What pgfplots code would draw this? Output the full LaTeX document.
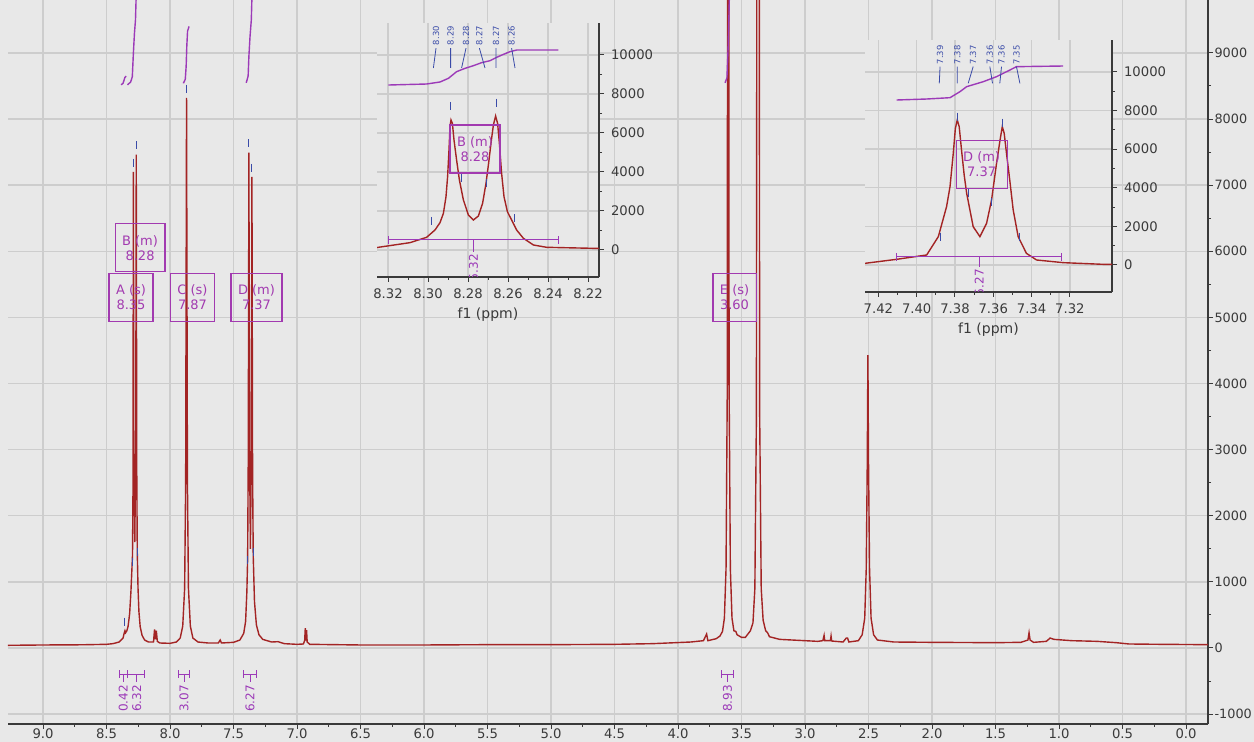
\documentclass[border=0pt]{standalone}
\usepackage{fontspec}
\setmainfont{DejaVu Sans}
\usepackage{pgfplots}
\pgfplotsset{compat=1.18}

\definecolor{bgc}{HTML}{E8E8E8}
\definecolor{gridc}{HTML}{CDCDCD}
\definecolor{specc}{HTML}{A32424}
\definecolor{intc}{HTML}{9C3AB8}
\definecolor{boxc}{HTML}{A23AB0}
\definecolor{peakc}{HTML}{3A4BA8}
\definecolor{axc}{HTML}{3A3A3A}

\pgfplotsset{
  nmr/.style={
    x dir=reverse, scale only axis,
    axis x line*=bottom, axis y line*=right,
    axis line style={draw=axc, line width=0.6pt},
    tick style={draw=axc, line width=0.5pt},
    tick align=outside, major tick length=2.5pt, minor tick length=1.5pt,
    xmajorgrids, ymajorgrids, major grid style={draw=gridc, line width=0.7pt},
    tick label style={font=\fontsize{6.6}{7}\selectfont, text=axc},
    scaled y ticks=false,
    /pgf/number format/assume math mode=true,
    /pgf/number format/set thousands separator={},
  },
}
\tikzset{
  lbox/.style={draw=boxc, line width=0.6pt, text=boxc, align=center,
    font=\fontsize{6.5}{7.6}\selectfont, inner xsep=3.5pt, minimum height=24pt},
  ilab/.style={rotate=90, anchor=east, text=intc, font=\fontsize{6}{6}\selectfont, inner sep=0.5pt},
  plab/.style={rotate=90, anchor=west, text=peakc, font=\fontsize{4.2}{5}\selectfont, inner sep=0.3pt},
}

\begin{document}
\begin{tikzpicture}
\fill[bgc] (0,0) rectangle (627pt,-371pt);
\path[use as bounding box] (0,0) rectangle (627pt,-371pt);

% full spectrum
\begin{axis}[nmr, at={(4pt,0pt)}, anchor=north west,
  width=600pt, height=362pt,
  xmin=-0.173, xmax=9.276, ymin=-1150, ymax=9800,
  xtick={0,0.5,...,9}, minor x tick num=1,
  ytick={-1000,0,...,9000}, minor y tick num=1,
  xticklabel style={inner sep=0pt, yshift=0.3pt, /pgf/number format/.cd, fixed, fixed zerofill, precision=1},
  yticklabel style={inner sep=0.6pt, font=\fontsize{6.4}{7}\selectfont},
]
\addplot[specc, line width=0.7pt] coordinates {
 (9.276,40) (9.0,45) (8.7,48) (8.5,55) (8.45,65) (8.40,90) (8.37,150) (8.36,230)
 (8.355,260) (8.35,230) (8.34,260) (8.33,330) (8.318,520) (8.308,850) (8.300,1200)
 (8.2955,1400) (8.292,2300) (8.2885,7200) (8.285,2900) (8.2775,1600) (8.270,3000)
 (8.266,7460) (8.262,2700) (8.258,1450) (8.252,900) (8.245,550) (8.235,320)
 (8.22,190) (8.20,120) (8.17,90) (8.13,90) (8.122,280) (8.115,130) (8.108,260)
 (8.10,100) (8.08,75) (8.0,70) (7.95,90) (7.92,150) (7.90,330) (7.885,900)
 (7.877,2500) (7.87,8320) (7.863,2500) (7.855,900) (7.84,330) (7.82,150) (7.78,90)
 (7.70,75) (7.62,75) (7.605,120) (7.595,75) (7.50,85) (7.45,120) (7.42,220)
 (7.405,400) (7.395,850) (7.389,1350) (7.384,2900) (7.379,7490) (7.374,3000)
 (7.367,1500) (7.360,3000) (7.355,7125) (7.350,2700) (7.345,1400) (7.335,700)
 (7.32,350) (7.30,200) (7.27,130) (7.20,90) (7.15,95) (7.10,65) (7.0,55) (6.95,60)
 (6.94,110) (6.935,300) (6.93,110) (6.925,270) (6.92,90) (6.90,55) (6.5,45) (6.0,45)
 (5.5,50) (5.0,50) (4.5,55) (4.2,65) (3.9,90) (3.80,110) (3.775,210) (3.765,110)
 (3.70,140) (3.67,180) (3.65,250) (3.635,450) (3.622,1200) (3.612,4000) (3.605,30000)
 (3.598,4000) (3.588,1200) (3.575,450) (3.56,260) (3.545,250) (3.535,200) (3.50,160)
 (3.47,160) (3.43,260) (3.41,380) (3.395,900) (3.383,3500) (3.37,30000) (3.357,3500)
 (3.345,900) (3.33,420) (3.31,260) (3.295,230) (3.28,170) (3.2,130) (3.0,110)
 (2.9,100) (2.86,110) (2.85,190) (2.845,110) (2.80,110) (2.795,180) (2.79,105)
 (2.70,90) (2.675,150) (2.665,150) (2.655,90) (2.58,110) (2.55,200) (2.53,450)
 (2.518,1200) (2.51,2800) (2.505,4430) (2.50,2800) (2.492,1200) (2.48,450) (2.46,200)
 (2.43,120) (2.3,90) (2.0,85) (1.5,80) (1.3,85) (1.245,120) (1.236,230) (1.228,120)
 (1.2,85) (1.10,100) (1.07,150) (1.04,130) (0.9,110) (0.7,100) (0.55,80) (0.45,60)
 (0.2,55) (-0.173,50)};
% peak picks
\addplot[only marks, mark=|, mark size=2pt, peakc, mark options={line width=0.5pt}] coordinates {
 (8.266,7600) (8.2885,7340) (7.87,8460) (7.379,7630) (7.355,7260)
 (8.2955,1300) (8.258,1450) (7.389,1330) (7.345,1450) (8.355,400)};
% integral curves
\addplot[intc, line width=0.7pt] coordinates {(8.385,8517) (8.37,8540) (8.355,8630) (8.345,8650)};
\addplot[intc, line width=0.7pt] coordinates {(8.335,8517) (8.31,8560) (8.297,8640) (8.2885,9000) (8.28,9300) (8.272,9500) (8.266,9900) (8.255,10300)};
\addplot[intc, line width=0.7pt] coordinates {(7.895,8540) (7.88,8600) (7.873,8800) (7.868,9100) (7.862,9330) (7.85,9400)};
\addplot[intc, line width=0.7pt] coordinates {(7.40,8547) (7.385,8650) (7.379,8950) (7.37,9250) (7.36,9500) (7.355,9850) (7.34,10300)};
\addplot[intc, line width=0.7pt] coordinates {(3.63,8547) (3.615,8620) (3.605,9100) (3.595,9900) (3.58,11000)};
% integration brackets
\draw[intc, line width=0.5pt] (axis cs:8.40,-400) -- (axis cs:8.335,-400) (axis cs:8.40,-340) -- (axis cs:8.40,-460) (axis cs:8.335,-340) -- (axis cs:8.335,-460) (axis cs:8.368,-400) -- (axis cs:8.368,-520);
\node[ilab] at (axis cs:8.368,-540) {0.42};
\draw[intc, line width=0.5pt] (axis cs:8.335,-400) -- (axis cs:8.20,-400) (axis cs:8.20,-340) -- (axis cs:8.20,-460) (axis cs:8.262,-400) -- (axis cs:8.262,-520);
\node[ilab] at (axis cs:8.262,-540) {6.32};
\draw[intc, line width=0.5pt] (axis cs:7.93,-400) -- (axis cs:7.85,-400) (axis cs:7.93,-340) -- (axis cs:7.93,-460) (axis cs:7.85,-340) -- (axis cs:7.85,-460) (axis cs:7.89,-400) -- (axis cs:7.89,-520);
\node[ilab] at (axis cs:7.89,-540) {3.07};
\draw[intc, line width=0.5pt] (axis cs:7.42,-400) -- (axis cs:7.32,-400) (axis cs:7.42,-340) -- (axis cs:7.42,-460) (axis cs:7.32,-340) -- (axis cs:7.32,-460) (axis cs:7.37,-400) -- (axis cs:7.37,-520);
\node[ilab] at (axis cs:7.37,-540) {6.27};
\draw[intc, line width=0.5pt] (axis cs:3.66,-400) -- (axis cs:3.56,-400) (axis cs:3.66,-340) -- (axis cs:3.66,-460) (axis cs:3.56,-340) -- (axis cs:3.56,-460) (axis cs:3.61,-400) -- (axis cs:3.61,-520);
\node[ilab] at (axis cs:3.61,-540) {8.93};
% multiplet boxes
\node[lbox] at (axis cs:8.236,6051) {B (m)\\8.28};
\node[lbox] at (axis cs:8.307,5303) {A (s)\\8.35};
\node[lbox] at (axis cs:7.823,5303) {C (s)\\7.87};
\node[lbox] at (axis cs:7.319,5303) {D (m)\\7.37};
\node[lbox] at (axis cs:3.555,5303) {E (s)\\3.60};
\end{axis}

% inset B
\begin{axis}[nmr, at={(188.5pt,-11.5pt)}, anchor=north west,
  width=111pt, height=127pt,
  xmin=8.2145, xmax=8.3255, ymin=-1385, ymax=11640,
  xtick={8.22,8.24,8.26,8.28,8.30,8.32}, minor x tick num=1,
  ytick={0,2000,...,10000}, minor y tick num=1,
  xticklabel style={/pgf/number format/.cd, fixed, fixed zerofill, precision=2},
  xlabel={f1 (ppm)}, xlabel style={font=\fontsize{7}{8}\selectfont, text=axc, inner sep=1pt},
  axis background/.style={fill=bgc},
]
\addplot[specc, line width=0.7pt] coordinates {
 (8.3255,120) (8.3248,137) (8.309,376) (8.3007,649) (8.2965,1025) (8.294,1401)
 (8.2923,1880) (8.291,2734) (8.2902,3760) (8.2895,5127) (8.289,6323) (8.2885,6665)
 (8.2878,6494) (8.287,5640) (8.2857,4614) (8.2843,3589) (8.2823,2564) (8.2798,1794)
 (8.2773,1538) (8.2748,1743) (8.2727,2393) (8.271,3418) (8.2697,4443) (8.2683,5640)
 (8.2673,6409) (8.2662,6870) (8.2652,6494) (8.2643,5469) (8.2632,3931) (8.262,2734)
 (8.2603,1965) (8.2582,1538) (8.2557,1025) (8.2523,598) (8.2473,256) (8.2407,137)
 (8.2173,85) (8.2145,85)};
\addplot[intc, line width=0.7pt] coordinates {
 (8.3198,8460) (8.3007,8511) (8.294,8614) (8.2898,8802) (8.2857,9143) (8.2815,9314)
 (8.2773,9451) (8.2732,9605) (8.269,9707) (8.2657,9878) (8.2623,10032) (8.259,10169)
 (8.2557,10254) (8.2348,10254)};
\addplot[only marks, mark=|, mark size=2pt, peakc, mark options={line width=0.5pt}] coordinates {
 (8.2887,7390) (8.266,7560) (8.2982,1490) (8.2832,3670) (8.271,3430) (8.257,1640)};
\draw[intc, line width=0.5pt] (axis cs:8.3198,513) -- (axis cs:8.2348,513)
  (axis cs:8.3198,313) -- (axis cs:8.3198,713) (axis cs:8.2348,313) -- (axis cs:8.2348,713)
  (axis cs:8.2773,513) -- (axis cs:8.2773,-100);
\node[ilab] at (axis cs:8.2773,-150) {6.32};
\draw[peakc, line width=0.4pt]
  (axis cs:8.2960,10350) -- (axis cs:8.2973,9333)
  (axis cs:8.2887,10350) -- (axis cs:8.2887,9333)
  (axis cs:8.2810,10350) -- (axis cs:8.2832,9333)
  (axis cs:8.2743,10350) -- (axis cs:8.2715,9333)
  (axis cs:8.2660,10350) -- (axis cs:8.2660,9333)
  (axis cs:8.2582,10350) -- (axis cs:8.2565,9333);
\node[plab] at (axis cs:8.2960,10460) {8.30};
\node[plab] at (axis cs:8.2887,10460) {8.29};
\node[plab] at (axis cs:8.2810,10460) {8.28};
\node[plab] at (axis cs:8.2743,10460) {8.27};
\node[plab] at (axis cs:8.2660,10460) {8.27};
\node[plab] at (axis cs:8.2582,10460) {8.26};
\node[lbox, minimum width=25pt, inner xsep=1pt] at (axis cs:8.2765,5180) {B (m)\\8.28};
\end{axis}

% inset D
\begin{axis}[nmr, at={(432.5pt,-20pt)}, anchor=north west,
  width=123.5pt, height=126pt,
  xmin=7.298, xmax=7.427, ymin=-1399, ymax=11658,
  xtick={7.32,7.34,7.36,7.38,7.40,7.42}, minor x tick num=1,
  ytick={0,2000,...,10000}, minor y tick num=1,
  xticklabel style={/pgf/number format/.cd, fixed, fixed zerofill, precision=2},
  xlabel={f1 (ppm)}, xlabel style={font=\fontsize{7}{8}\selectfont, text=axc, inner sep=1pt},
  axis background/.style={fill=bgc},
]
\addplot[specc, line width=0.7pt] coordinates {
 (7.4270,86) (7.4105,294) (7.3948,518) (7.3887,1468) (7.3844,3022) (7.3826,4058)
 (7.3809,5785) (7.3798,7081) (7.3788,7513) (7.3778,7167) (7.3765,5872) (7.3752,4663)
 (7.3739,3713) (7.3705,1986) (7.3670,1468) (7.3635,2159) (7.3609,3368) (7.3583,5267)
 (7.3566,6390) (7.3553,7167) (7.3543,6822) (7.3531,5785) (7.3513,4317) (7.3496,2850)
 (7.3470,1468) (7.3427,605) (7.3374,259) (7.3235,121) (7.3027,35) (7.298,30)};
\addplot[intc, line width=0.7pt] coordinates {
 (7.4105,8549) (7.3948,8600) (7.3826,8669) (7.3774,8980) (7.3739,9240) (7.3652,9499)
 (7.3583,9758) (7.3513,10103) (7.3479,10276) (7.3235,10310)};
\addplot[only marks, mark=|, mark size=2pt, peakc, mark options={line width=0.5pt}] coordinates {
 (7.3788,7690) (7.3553,7380) (7.3878,1470) (7.3731,3710) (7.3609,3280) (7.3461,1470)};
\draw[intc, line width=0.5pt] (axis cs:7.4105,432) -- (axis cs:7.3244,432)
  (axis cs:7.4105,232) -- (axis cs:7.4105,632) (axis cs:7.3244,232) -- (axis cs:7.3244,632)
  (axis cs:7.3673,432) -- (axis cs:7.3673,-100);
\node[ilab] at (axis cs:7.3673,-150) {6.27};
\draw[peakc, line width=0.4pt]
  (axis cs:7.3878,10280) -- (axis cs:7.3882,9412)
  (axis cs:7.3788,10280) -- (axis cs:7.3788,9412)
  (axis cs:7.3705,10280) -- (axis cs:7.3731,9412)
  (axis cs:7.3618,10280) -- (axis cs:7.3604,9412)
  (axis cs:7.3557,10280) -- (axis cs:7.3566,9412)
  (axis cs:7.3479,10280) -- (axis cs:7.3461,9412);
\node[plab] at (axis cs:7.3878,10360) {7.39};
\node[plab] at (axis cs:7.3788,10360) {7.38};
\node[plab] at (axis cs:7.3705,10360) {7.37};
\node[plab] at (axis cs:7.3618,10360) {7.36};
\node[plab] at (axis cs:7.3557,10360) {7.36};
\node[plab] at (axis cs:7.3479,10360) {7.35};
\node[lbox, minimum width=25.5pt, inner xsep=1pt] at (axis cs:7.3661,5224) {D (m)\\7.37};
\end{axis}
\end{tikzpicture}
\end{document}
